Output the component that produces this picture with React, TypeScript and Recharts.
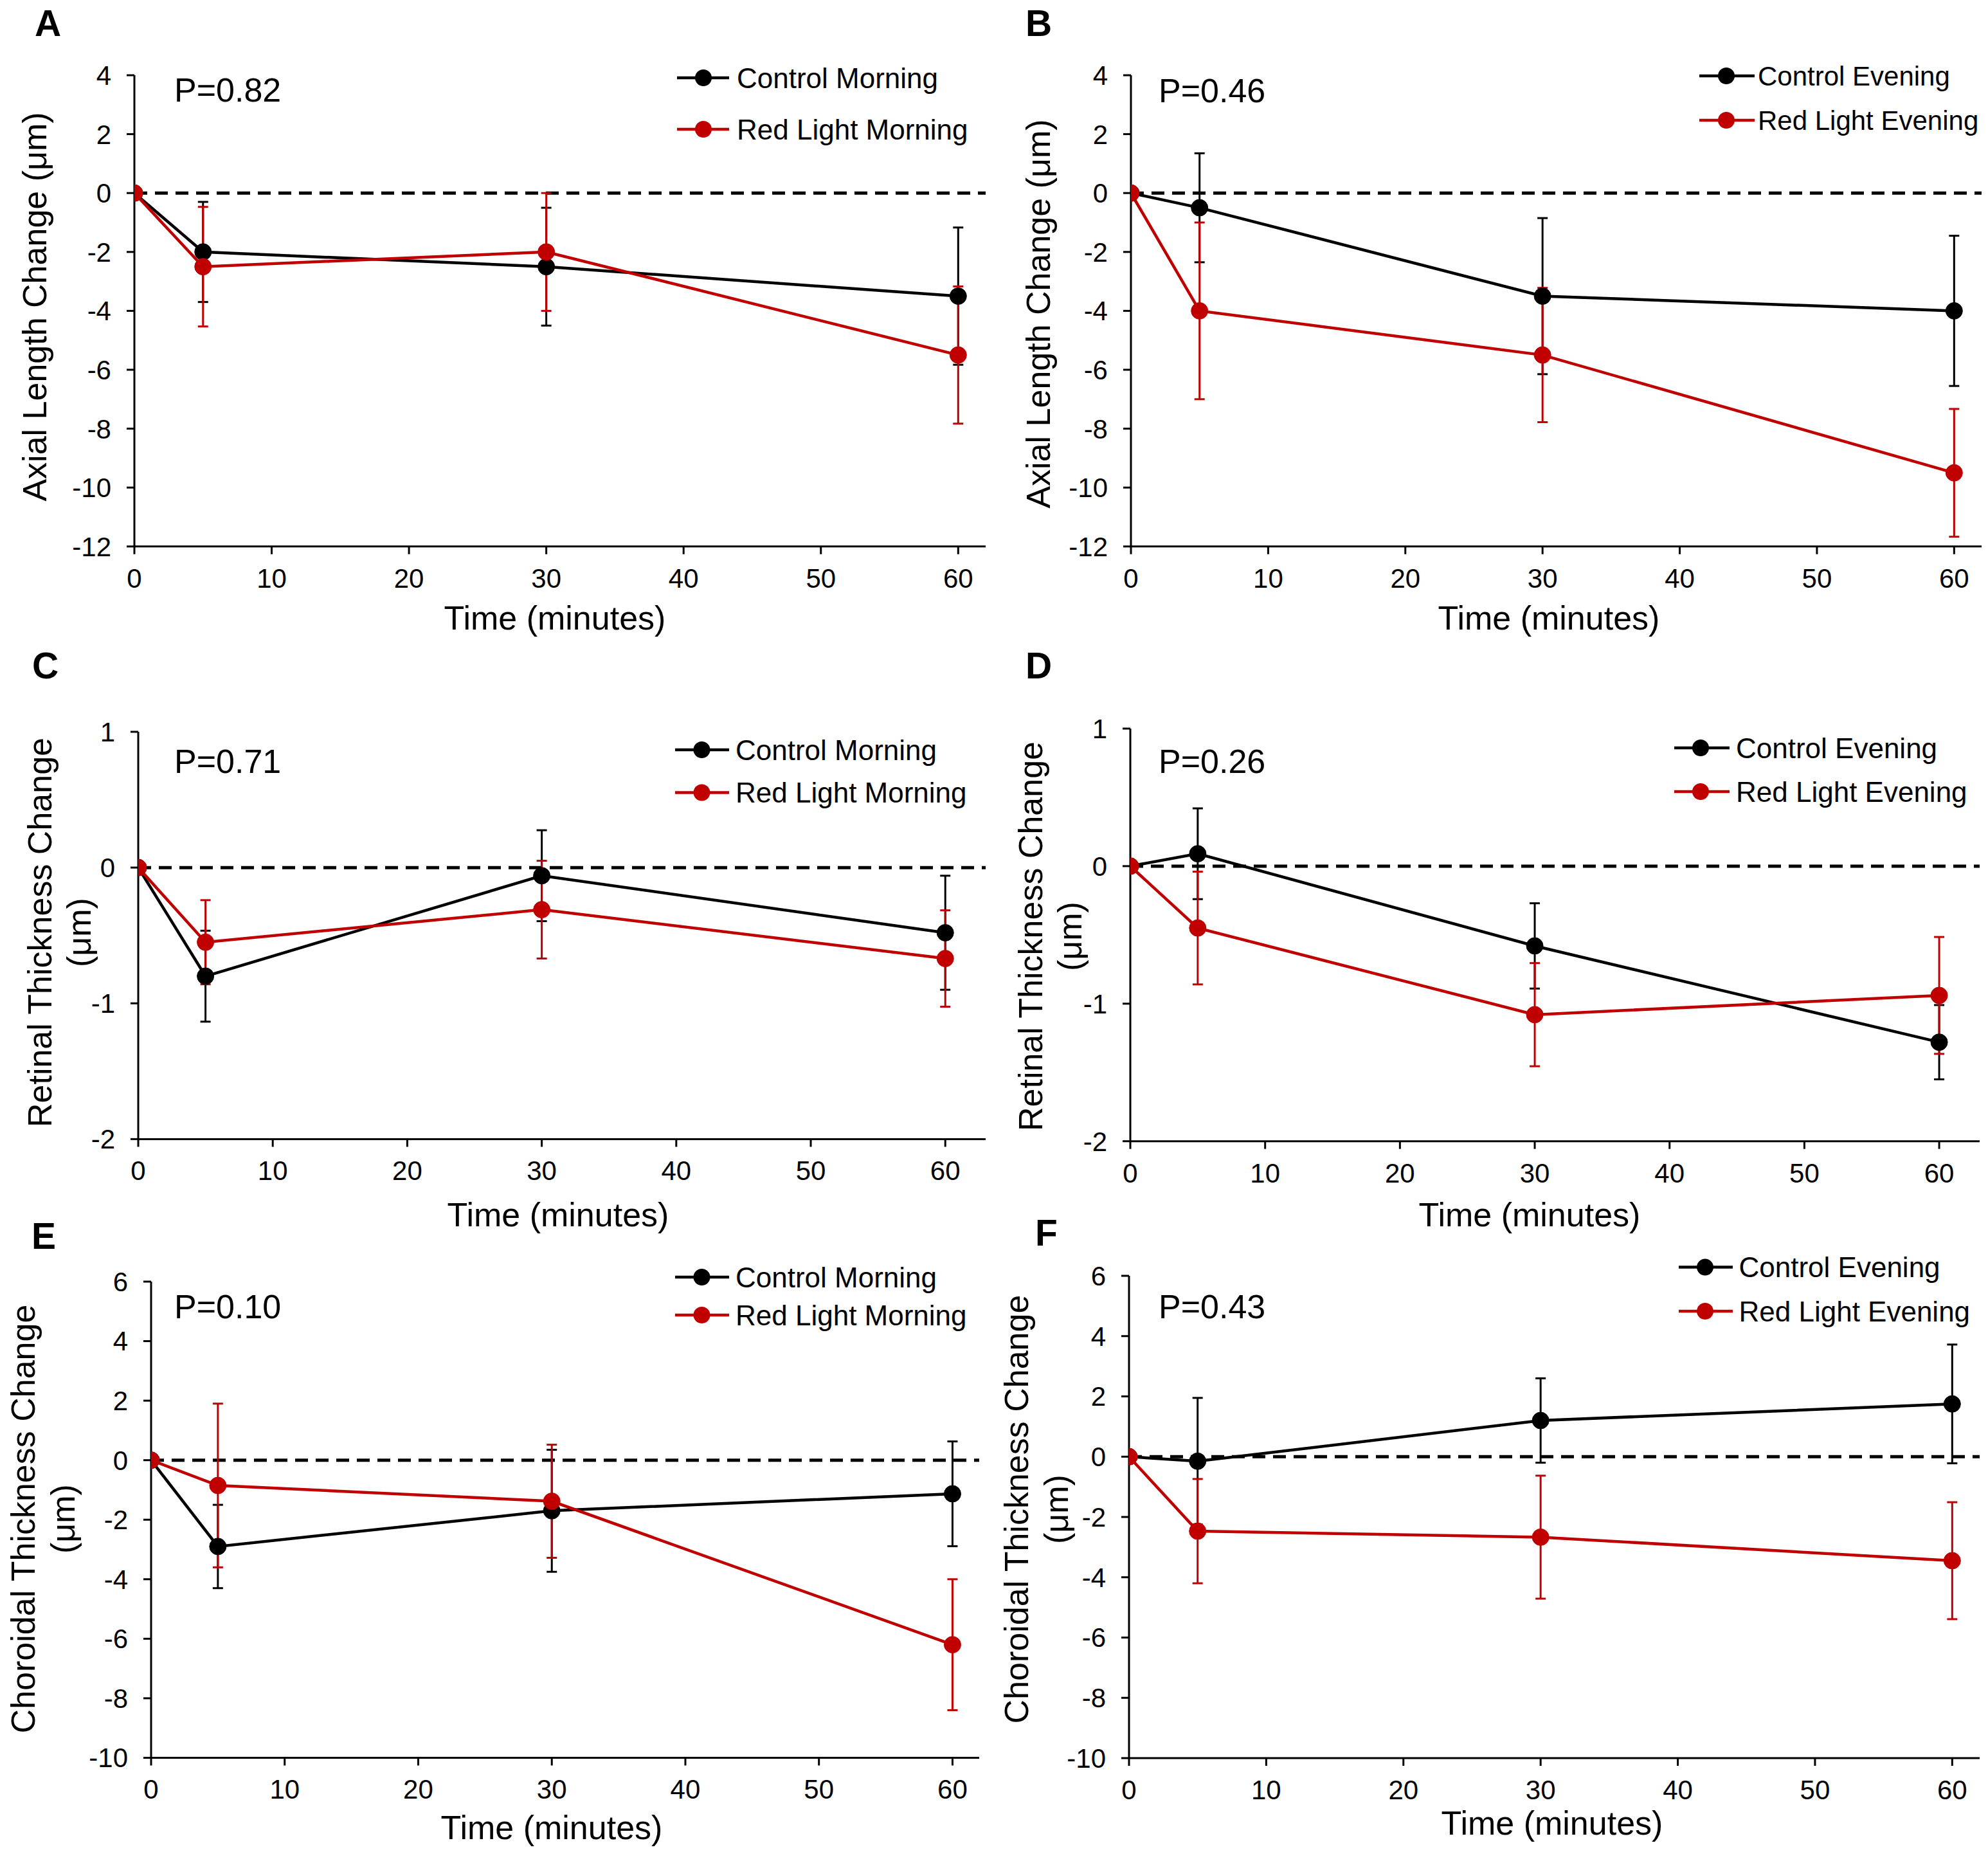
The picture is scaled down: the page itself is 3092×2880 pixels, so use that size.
import React from "react";
import { LineChart, Line, XAxis, YAxis, ErrorBar, ReferenceLine } from "recharts";

const FONT = '"Liberation Sans", Arial, Helvetica, sans-serif';
const BLACK = "#000000";
const RED = "#C00000";

// shared x values / ticks
const timeMinutes = [0, 5, 30, 60];
const xTicks = [0, 10, 20, 30, 40, 50, 60];

const axialTicks = [-12, -10, -8, -6, -4, -2, 0, 2, 4];
const retinalTicks = [-2, -1, 0, 1];
const choroidalTicks = [-10, -8, -6, -4, -2, 0, 2, 4, 6];

// A - axial length, morning
const axialControlMorning = [0, -2.0, -2.5, -3.5];
const axialControlMorningSE = [0, 1.7, 2.0, 2.33];
const axialRedMorning = [0, -2.5, -2.0, -5.5];
const axialRedMorningSE = [0, 2.03, 2.0, 2.33];

// B - axial length, evening
const axialControlEvening = [0, -0.5, -3.5, -4.0];
const axialControlEveningSE = [0, 1.85, 2.65, 2.55];
const axialRedEvening = [0, -4.0, -5.5, -9.5];
const axialRedEveningSE = [0, 3.0, 2.28, 2.17];

// C - retinal thickness, morning
const retinalControlMorning = [0, -0.8, -0.06, -0.48];
const retinalControlMorningSE = [0, 0.335, 0.335, 0.42];
const retinalRedMorning = [0, -0.55, -0.31, -0.67];
const retinalRedMorningSE = [0, 0.31, 0.36, 0.355];

// D - retinal thickness, evening
const retinalControlEvening = [0, 0.09, -0.58, -1.28];
const retinalControlEveningSE = [0, 0.33, 0.31, 0.27];
const retinalRedEvening = [0, -0.45, -1.08, -0.94];
const retinalRedEveningSE = [0, 0.41, 0.375, 0.425];

// E - choroidal thickness, morning
const choroidalControlMorning = [0, -2.9, -1.7, -1.13];
const choroidalControlMorningSE = [0, 1.4, 2.05, 1.76];
const choroidalRedMorning = [0, -0.85, -1.38, -6.2];
const choroidalRedMorningSE = [0, 2.75, 1.9, 2.2];

// F - choroidal thickness, evening
const choroidalControlEvening = [0, -0.15, 1.2, 1.75];
const choroidalControlEveningSE = [0, 2.1, 1.4, 1.97];
const choroidalRedEvening = [0, -2.47, -2.67, -3.45];
const choroidalRedEveningSE = [0, 1.73, 2.04, 1.94];

function rows(c: number[], cErr: number[], r: number[], rErr: number[]) {
  return timeMinutes.map((t, i) => ({ t, c: c[i], cErr: cErr[i], r: r[i], rErr: rErr[i] }));
}

type Box = { left: number; right: number; top: number; bottom: number };

function Panel({
  data,
  box,
  xMax,
  yDomain,
  yTicks,
}: {
  data: any[];
  box: Box;
  xMax: number;
  yDomain: [number, number];
  yTicks: number[];
}) {
  const YW = 150;
  const MT = 30;
  const MR = 20;
  const XH = 90;
  const MB = 10;
  const chartLeft = box.left - YW;
  const chartTop = box.top - MT;
  const width = box.right - chartLeft + MR;
  const height = box.bottom - chartTop + XH + MB;
  const tickStyle = { fontSize: 42, fill: "#000", fontFamily: FONT };

  return (
    <div style={{ position: "absolute", left: chartLeft, top: chartTop, width, height }}>
      <LineChart width={width} height={height} data={data} margin={{ top: MT, right: MR, bottom: MB, left: 0 }}>
        <XAxis
          type="number"
          dataKey="t"
          domain={[0, xMax]}
          ticks={xTicks}
          height={XH}
          allowDataOverflow
          stroke="#000"
          strokeWidth={3}
          tickSize={12}
          tickMargin={22}
          tick={tickStyle}
        />
        <YAxis
          type="number"
          domain={yDomain}
          ticks={yTicks}
          width={YW}
          allowDataOverflow
          stroke="#000"
          strokeWidth={3}
          tickSize={12}
          tickMargin={24}
          tick={tickStyle}
        />
        <ReferenceLine y={0} stroke="#000" strokeWidth={5} strokeDasharray="20 12" />
        <Line
          type="linear"
          dataKey="c"
          stroke={BLACK}
          strokeWidth={4.5}
          dot={{ r: 13, fill: BLACK, stroke: BLACK, strokeWidth: 1 }}
          isAnimationActive={false}
        >
          <ErrorBar dataKey="cErr" direction="y" width={8} strokeWidth={3} stroke={BLACK} isAnimationActive={false} />
        </Line>
        <Line
          type="linear"
          dataKey="r"
          stroke={RED}
          strokeWidth={4.5}
          dot={{ r: 13, fill: RED, stroke: RED, strokeWidth: 1 }}
          isAnimationActive={false}
        >
          <ErrorBar dataKey="rErr" direction="y" width={8} strokeWidth={3} stroke={RED} isAnimationActive={false} />
        </Line>
      </LineChart>
    </div>
  );
}

function LegendRows({
  x1,
  x2,
  mx,
  tx,
  y1,
  y2,
  names,
  fs = 44,
}: {
  x1: number;
  x2: number;
  mx: number;
  tx: number;
  y1: number;
  y2: number;
  names: string[];
  fs?: number;
}) {
  const items = [
    { y: y1, color: BLACK, name: names[0] },
    { y: y2, color: RED, name: names[1] },
  ];
  return (
    <g>
      {items.map((it) => (
        <g key={it.name}>
          <line x1={x1} x2={x2} y1={it.y} y2={it.y} stroke={it.color} strokeWidth={4.5} />
          <circle cx={mx} cy={it.y} r={13} fill={it.color} />
          <text x={tx} y={it.y + 0.358 * fs} fontSize={fs} fontFamily={FONT} fill="#000">
            {it.name}
          </text>
        </g>
      ))}
    </g>
  );
}

function YTitle({ cx, cy, lines, lineGap = 61 }: { cx: number; cy: number; lines: string[]; lineGap?: number }) {
  // cx = visual centre of first line; baseline sits 0.253em to the right after rotation
  return (
    <g>
      {lines.map((l, i) => {
        const bx = cx + i * lineGap + 13;
        return (
          <text
            key={l}
            x={bx}
            y={cy}
            transform={`rotate(-90 ${bx} ${cy})`}
            textAnchor="middle"
            fontSize={52}
            fontFamily={FONT}
            fill="#000"
          >
            {l}
          </text>
        );
      })}
    </g>
  );
}

function XTitle({ cx, baseline }: { cx: number; baseline: number }) {
  return (
    <text x={cx} y={baseline} textAnchor="middle" fontSize={52} fontFamily={FONT} fill="#000">
      Time (minutes)
    </text>
  );
}

function Letter({ x, baseline, ch }: { x: number; baseline: number; ch: string }) {
  return (
    <text x={x} y={baseline} fontSize={57} fontWeight="bold" fontFamily={FONT} fill="#000">
      {ch}
    </text>
  );
}

function PText({ x, cy, txt }: { x: number; cy: number; txt: string }) {
  return (
    <text x={x} y={cy + 18.6} fontSize={52} fontFamily={FONT} fill="#000">
      {txt}
    </text>
  );
}

export default function App() {
  const morning = ["Control Morning", "Red Light Morning"];
  const evening = ["Control Evening", "Red Light Evening"];
  return (
    <div style={{ position: "absolute", left: 0, top: 0, width: 3092, height: 2880, background: "#fff", overflow: "hidden" }}>
      <Panel
        data={rows(axialControlMorning, axialControlMorningSE, axialRedMorning, axialRedMorningSE)}
        box={{ left: 209, right: 1533, top: 116.7, bottom: 849.5 }}
        xMax={62}
        yDomain={[-12, 4]}
        yTicks={axialTicks}
      />
      <Panel
        data={rows(axialControlEvening, axialControlEveningSE, axialRedEvening, axialRedEveningSE)}
        box={{ left: 1759, right: 3082, top: 116.7, bottom: 849.5 }}
        xMax={62}
        yDomain={[-12, 4]}
        yTicks={axialTicks}
      />
      <Panel
        data={rows(retinalControlMorning, retinalControlMorningSE, retinalRedMorning, retinalRedMorningSE)}
        box={{ left: 215, right: 1533, top: 1137.6, bottom: 1771 }}
        xMax={63}
        yDomain={[-2, 1]}
        yTicks={retinalTicks}
      />
      <Panel
        data={rows(retinalControlEvening, retinalControlEveningSE, retinalRedEvening, retinalRedEveningSE)}
        box={{ left: 1758, right: 3079, top: 1132.7, bottom: 1774.4 }}
        xMax={63}
        yDomain={[-2, 1]}
        yTicks={retinalTicks}
      />
      <Panel
        data={rows(choroidalControlMorning, choroidalControlMorningSE, choroidalRedMorning, choroidalRedMorningSE)}
        box={{ left: 235, right: 1523, top: 1992.5, bottom: 2733 }}
        xMax={62}
        yDomain={[-10, 6]}
        yTicks={choroidalTicks}
      />
      <Panel
        data={rows(choroidalControlEvening, choroidalControlEveningSE, choroidalRedEvening, choroidalRedEveningSE)}
        box={{ left: 1756, right: 3079, top: 1983.75, bottom: 2733.75 }}
        xMax={62}
        yDomain={[-10, 6]}
        yTicks={choroidalTicks}
      />

      <svg width={3092} height={2880} style={{ position: "absolute", left: 0, top: 0, pointerEvents: "none" }}>
        {/* panel letters */}
        <Letter x={54} baseline={56} ch="A" />
        <Letter x={1595} baseline={56} ch="B" />
        <Letter x={50} baseline={1055} ch="C" />
        <Letter x={1595} baseline={1055} ch="D" />
        <Letter x={49} baseline={1942} ch="E" />
        <Letter x={1610} baseline={1937} ch="F" />

        {/* p values */}
        <PText x={271} cy={139} txt="P=0.82" />
        <PText x={1802} cy={140} txt="P=0.46" />
        <PText x={271} cy={1183.5} txt="P=0.71" />
        <PText x={1802} cy={1183.5} txt="P=0.26" />
        <PText x={271} cy={2031} txt="P=0.10" />
        <PText x={1802} cy={2031} txt="P=0.43" />

        {/* legends */}
        <LegendRows x1={1053} x2={1134} mx={1094} tx={1146} y1={121} y2={201} names={morning} />
        <LegendRows x1={2643} x2={2729} mx={2685} tx={2734} y1={118} y2={187} names={evening} fs={42} />
        <LegendRows x1={1050} x2={1134} mx={1091.5} tx={1144} y1={1166} y2={1232.5} names={morning} />
        <LegendRows x1={2604} x2={2690} mx={2645} tx={2700} y1={1163} y2={1231} names={evening} />
        <LegendRows x1={1050} x2={1134} mx={1091.5} tx={1144} y1={1986} y2={2045} names={morning} />
        <LegendRows x1={2611} x2={2695} mx={2652} tx={2704.5} y1={1970.6} y2={2039} names={evening} />

        {/* y titles */}
        <YTitle cx={59} cy={477} lines={["Axial Length Change (μm)"]} />
        <YTitle cx={1620} cy={488} lines={["Axial Length Change (μm)"]} />
        <YTitle cx={67} cy={1450} lines={["Retinal Thickness Change", "(μm)"]} />
        <YTitle cx={1608} cy={1456} lines={["Retinal Thickness Change", "(μm)"]} />
        <YTitle cx={41} cy={2362} lines={["Choroidal Thickness Change", "(μm)"]} lineGap={62} />
        <YTitle cx={1585.5} cy={2347} lines={["Choroidal Thickness Change", "(μm)"]} lineGap={62} />

        {/* x titles */}
        <XTitle cx={863} baseline={979} />
        <XTitle cx={2409} baseline={979} />
        <XTitle cx={868} baseline={1907} />
        <XTitle cx={2379} baseline={1907} />
        <XTitle cx={858} baseline={2860} />
        <XTitle cx={2414} baseline={2853} />
      </svg>
    </div>
  );
}
